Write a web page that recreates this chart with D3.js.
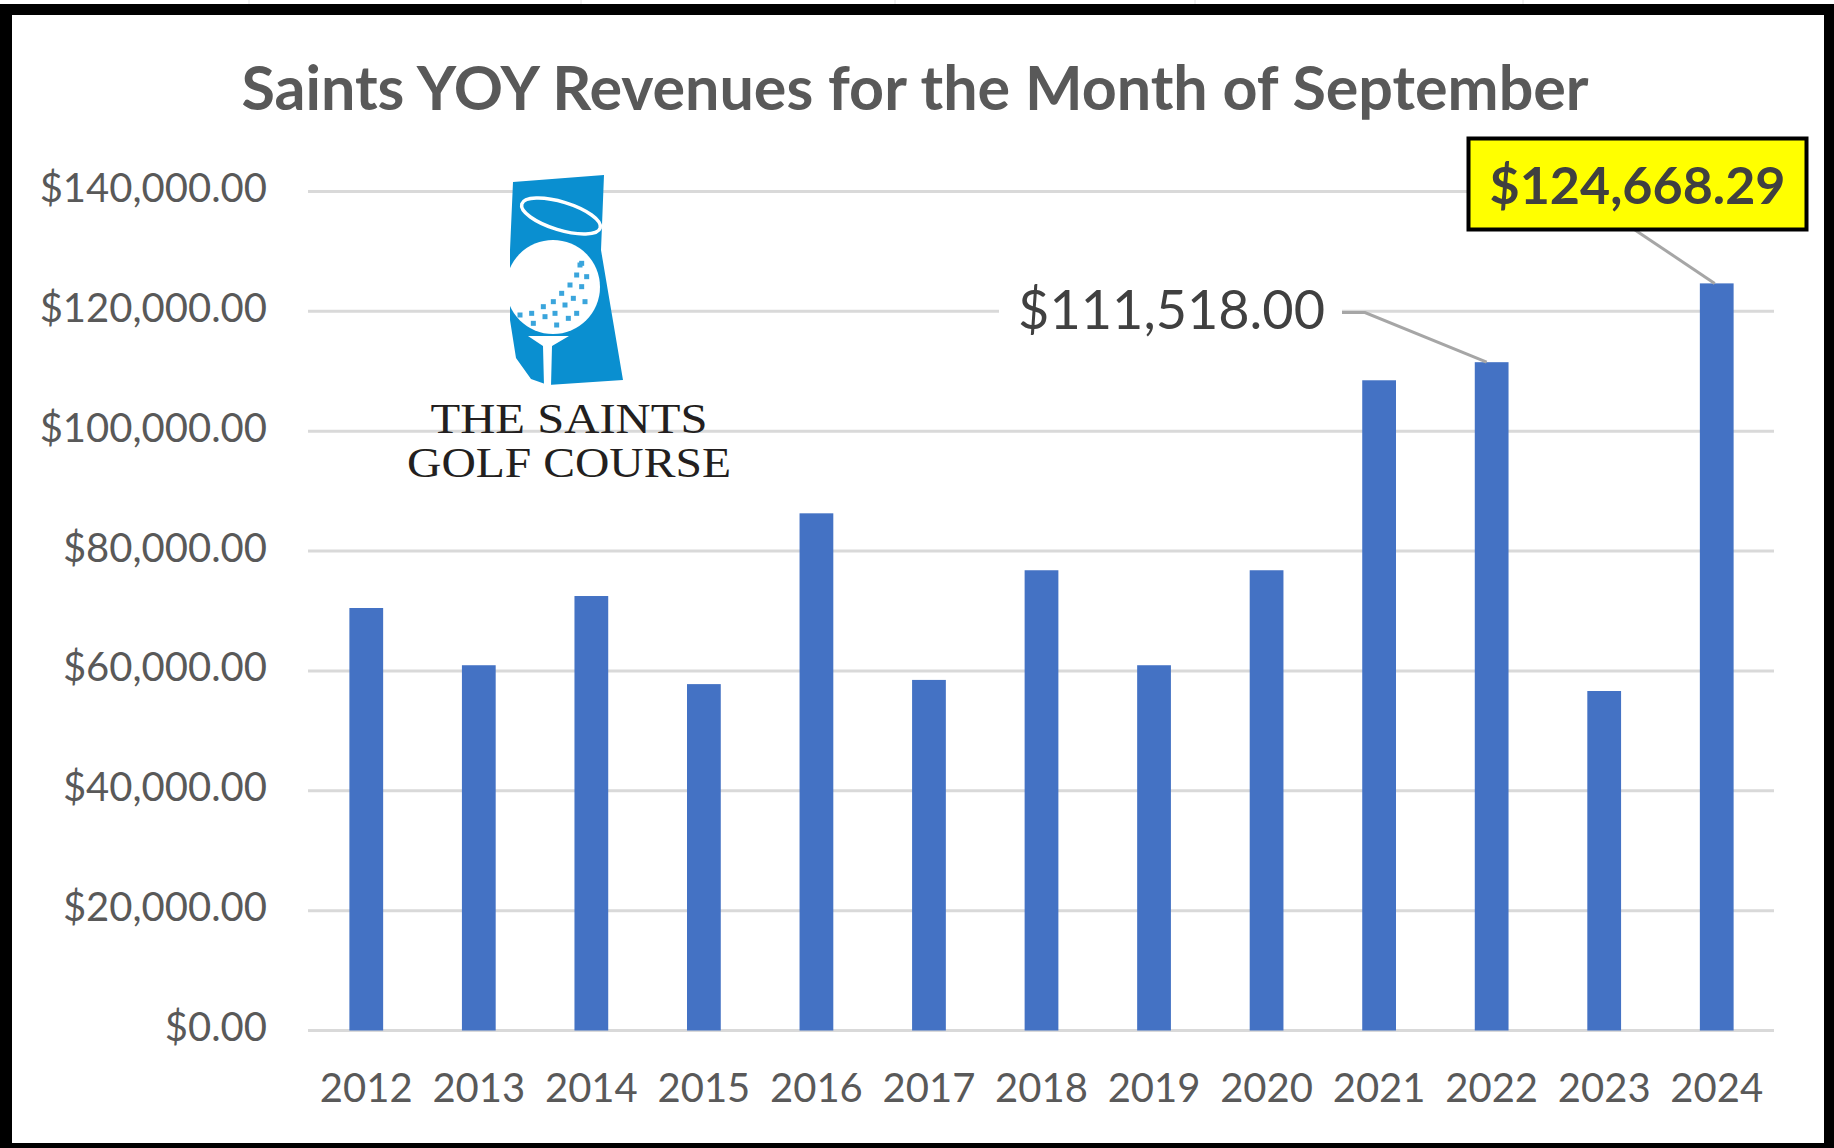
<!DOCTYPE html>
<html>
<head>
<meta charset="utf-8">
<script src="https://cdn.jsdelivr.net/npm/d3@7"></script>
<style>
  body { margin: 0; background: #fff; }
  svg { display: block; }
</style>
</head>
<body>
<div id="chart"></div>
<script>
// Data
const years = ["2012", "2013", "2014", "2015", "2016", "2017", "2018",
  "2019", "2020", "2021", "2022", "2023", "2024"];
const revenues = [70500, 60950, 72500, 57800, 86300, 58500, 76800,
  60950, 76800, 108500, 111518, 56650, 124668.29];
const yTicks = [0, 20000, 40000, 60000, 80000, 100000, 120000, 140000];
const title = "Saints YOY Revenues for the Month of September";
const callouts = ["2022", "2024"];

const W = 1834, H = 1148;
const plot = { left: 308, right: 1774, top: 191.5, bottom: 1030.5 };

const svg = d3.select("#chart")
  .append("svg")
  .attr("width", W)
  .attr("height", H);

svg.append("rect").attr("width", W).attr("height", H).attr("fill", "#fff");

// faint spreadsheet cell lines peeking above the frame
svg.selectAll(".cell")
  .data([249, 581, 895, 1195, 1523])
  .enter().append("line")
  .attr("x1", d => d).attr("x2", d => d)
  .attr("y1", 0).attr("y2", 4)
  .attr("stroke", "#e2e2e2").attr("stroke-width", 1);

// Scales
const x = d3.scaleBand()
  .domain(years)
  .range([plot.left + 2, plot.right - 1])
  .paddingInner(0.7)
  .paddingOuter(0.35);

const y = d3.scaleLinear()
  .domain([0, 140000])
  .range([plot.bottom, plot.top]);

const fmt = d => "$" + d3.format(",.2f")(d);

// Gridlines
svg.append("g")
  .selectAll("line")
  .data(yTicks)
  .enter().append("line")
  .attr("x1", plot.left).attr("x2", plot.right)
  .attr("y1", d => y(d)).attr("y2", d => y(d))
  .attr("stroke", "#d9d9d9")
  .attr("stroke-width", 3);

// Y axis labels (axis without domain/ticks)
const yAxis = svg.append("g")
  .attr("transform", `translate(${plot.left - 41}, 0)`)
  .call(d3.axisLeft(y).tickValues(yTicks).tickFormat(fmt).tickSize(0).tickPadding(0));
yAxis.select(".domain").remove();
yAxis.selectAll("text")
  .attr("font-family", "Lato, sans-serif")
  .attr("font-size", 40)
  .attr("fill", "#595959")
  .attr("dy", "0.25em");

// X axis labels
const xAxis = svg.append("g")
  .attr("transform", `translate(0, ${plot.bottom})`)
  .call(d3.axisBottom(x).tickSize(0).tickPadding(0));
xAxis.select(".domain").remove();
xAxis.selectAll("text")
  .attr("font-family", "Lato, sans-serif")
  .attr("font-size", 40)
  .attr("fill", "#595959")
  .attr("dy", null)
  .attr("y", 71.5);

// Bars
svg.append("g")
  .selectAll("rect")
  .data(years.map((yr, i) => ({ year: yr, value: revenues[i] })))
  .enter().append("rect")
  .attr("x", d => x(d.year))
  .attr("y", d => y(d.value))
  .attr("width", x.bandwidth())
  .attr("height", d => y(0) - y(d.value))
  .attr("fill", "#4472c4");

// Title
svg.append("text")
  .attr("x", 915)
  .attr("y", 110)
  .attr("text-anchor", "middle")
  .attr("font-family", "Lato, sans-serif")
  .attr("font-weight", "bold")
  .attr("font-size", 61)
  .attr("fill", "#595959")
  .text(title);

// Callout for 2022 (plain label with leader line)
const v22 = revenues[years.indexOf(callouts[0])];
const c22x = x(callouts[0]) + x.bandwidth() / 2;
svg.append("rect")
  .attr("x", 999).attr("y", 280).attr("width", 343).attr("height", 62)
  .attr("fill", "#fff");
svg.append("polyline")
  .attr("points", `1342,312.5 1365,312.5 ${c22x - 5},${y(v22)}`)
  .attr("fill", "none")
  .attr("stroke", "#a6a6a6")
  .attr("stroke-width", 3);
svg.append("text")
  .attr("x", 1325)
  .attr("y", 329)
  .attr("text-anchor", "end")
  .attr("font-family", "Lato, sans-serif")
  .attr("font-size", 54)
  .attr("fill", "#404040")
  .text(fmt(v22));

// Callout for 2024 (yellow boxed label)
const v24 = revenues[years.indexOf(callouts[1])];
const c24x = x(callouts[1]) + x.bandwidth() / 2;
svg.append("line")
  .attr("x1", 1635).attr("y1", 230)
  .attr("x2", c24x - 2).attr("y2", y(v24))
  .attr("stroke", "#a6a6a6")
  .attr("stroke-width", 3);
svg.append("rect")
  .attr("x", 1468.5).attr("y", 138.5)
  .attr("width", 338).attr("height", 91)
  .attr("fill", "#ffff00")
  .attr("stroke", "#000")
  .attr("stroke-width", 4);
svg.append("text")
  .attr("x", 1637.5)
  .attr("y", 203.5)
  .attr("text-anchor", "middle")
  .attr("font-family", "Lato, sans-serif")
  .attr("font-weight", "bold")
  .attr("font-size", 52)
  .attr("fill", "#404040")
  .text(fmt(v24));

// Logo: The Saints Golf Course
const logo = svg.append("g");
const logoBlue = "#0a8fd0";
logo.append("path")
  .attr("d", "M513,182 L604,175 L601,250 L623,380 L548,385 L531,379 L516,358 L510,320 L510,250 Z")
  .attr("fill", logoBlue);
logo.append("circle")
  .attr("cx", 553).attr("cy", 287).attr("r", 47)
  .attr("fill", "#fff");
const dimples = [[605, 340], [590, 375], [620, 380], [570, 405], [605, 410], [545, 430],
  [580, 445], [615, 455], [520, 455], [555, 465], [490, 470], [590, 490], [455, 490],
  [525, 490], [420, 495], [495, 500], [565, 505], [460, 520], [530, 525], [600, 345]];
logo.selectAll(".dimple")
  .data(dimples)
  .enter().append("rect")
  .attr("x", d => d[0] / 3 + 380 - 2.5)
  .attr("y", d => d[1] / 3 + 150 - 2.5)
  .attr("width", 5).attr("height", 5)
  .attr("fill", "#3aa5dc");
logo.append("ellipse")
  .attr("cx", 0).attr("cy", 0).attr("rx", 41).attr("ry", 14)
  .attr("transform", "translate(561,216) rotate(17)")
  .attr("fill", "none")
  .attr("stroke", "#fff")
  .attr("stroke-width", 3.5);
logo.append("path")
  .attr("d", "M528,336 L569,336 L552,346 L551,386 L544,386 L543,346 Z")
  .attr("fill", "#fff");
logo.selectAll(".logotext")
  .data([["THE SAINTS", 433, 277], ["GOLF COURSE", 477, 324]])
  .enter().append("text")
  .attr("x", 569)
  .attr("y", d => d[1])
  .attr("text-anchor", "middle")
  .attr("font-family", "'Liberation Serif', serif")
  .attr("font-size", 43)
  .attr("textLength", d => d[2])
  .attr("lengthAdjust", "spacingAndGlyphs")
  .attr("fill", "#231f20")
  .text(d => d[0]);

// Black frame
const frame = svg.append("g").attr("fill", "#000");
frame.append("rect").attr("x", 0).attr("y", 4).attr("width", W).attr("height", 11);
frame.append("rect").attr("x", 0).attr("y", 4).attr("width", 12).attr("height", H);
frame.append("rect").attr("x", 1824).attr("y", 4).attr("width", 10).attr("height", H);
frame.append("rect").attr("x", 0).attr("y", 1143).attr("width", W).attr("height", 5);
</script>
</body>
</html>
